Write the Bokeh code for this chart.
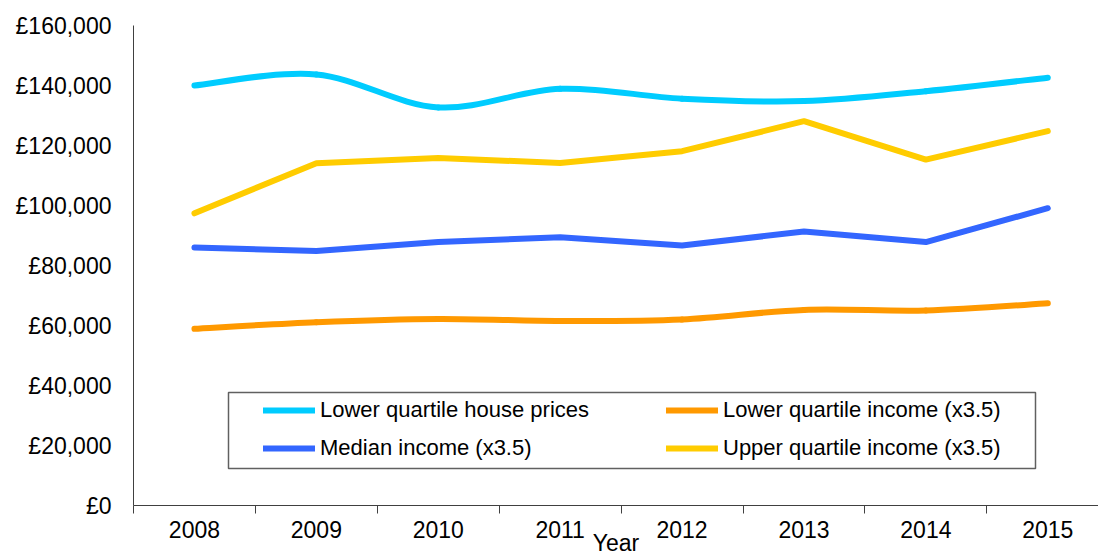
from bokeh.plotting import figure
from bokeh.models import Range1d, FixedTicker, Legend, LegendItem, BoxAnnotation, ColumnDataSource
from bokeh.embed import file_html
from bokeh.resources import INLINE

years = ["2008", "2009", "2010", "2011", "2012", "2013", "2014", "2015"]
house_lq = [140000, 143700, 132700, 138900, 135600, 134800, 138100, 142600]
income_lq = [58900, 61100, 62200, 61500, 62000, 65200, 65000, 67400]
income_med = [86000, 84800, 87800, 89400, 86700, 91300, 87800, 99100]
income_uq = [97400, 114100, 115800, 114200, 118100, 128100, 115300, 124800]
y_ticks = list(range(0, 160001, 20000))
y_tick_labels = ["£" + f"{t:,}" for t in y_ticks]
series_names = ["Lower quartile house prices", "Lower quartile income (x3.5)",
                "Median income (x3.5)", "Upper quartile income (x3.5)"]
x_title = "Year"

FONT = "Liberation Sans"
AXIS_COLOR = "#404040"
C_HOUSE = "#00CCFF"
C_LQ = "#FF9900"
C_MED = "#3366FF"
C_UQ = "#FFCC00"
LW = 6

xs = list(range(len(years)))


def bezier_source(ys):
    n = len(ys)
    d = dict(x0=[], y0=[], x1=[], y1=[], cx0=[], cy0=[], cx1=[], cy1=[])
    for i in range(n - 1):
        ip = max(i - 1, 0)
        inx = min(i + 2, n - 1)
        d["x0"].append(xs[i]); d["y0"].append(ys[i])
        d["x1"].append(xs[i + 1]); d["y1"].append(ys[i + 1])
        d["cx0"].append(xs[i] + (xs[i + 1] - xs[ip]) / 6.0)
        d["cy0"].append(ys[i] + (ys[i + 1] - ys[ip]) / 6.0)
        d["cx1"].append(xs[i + 1] - (xs[inx] - xs[i]) / 6.0)
        d["cy1"].append(ys[i + 1] - (ys[inx] - ys[i]) / 6.0)
    return ColumnDataSource(d)


p = figure(width=1098, height=558, output_backend="svg", toolbar_location=None,
           x_range=Range1d(-0.5, 7.416), y_range=Range1d(0, 160000),
           min_border_left=133, min_border_right=0, min_border_top=25, min_border_bottom=53)
p.outline_line_color = None
p.xgrid.visible = False
p.ygrid.visible = False
p.background_fill_color = "white"
p.border_fill_color = "white"

# smoothed series
r_lq = p.bezier(x0="x0", y0="y0", x1="x1", y1="y1", cx0="cx0", cy0="cy0", cx1="cx1", cy1="cy1",
                source=bezier_source(income_lq), line_color=C_LQ, line_width=LW, line_cap="round")
r_house = p.bezier(x0="x0", y0="y0", x1="x1", y1="y1", cx0="cx0", cy0="cy0", cx1="cx1", cy1="cy1",
                   source=bezier_source(house_lq), line_color=C_HOUSE, line_width=LW, line_cap="round")
# straight series
r_med = p.line(xs, income_med, line_color=C_MED, line_width=LW, line_cap="round", line_join="round")
r_uq = p.line(xs, income_uq, line_color=C_UQ, line_width=LW, line_cap="round", line_join="round")

# axes
p.xaxis.ticker = FixedTicker(ticks=xs, minor_ticks=[i - 0.5 for i in range(len(years) + 1)])
p.xaxis.major_label_overrides = {i: y for i, y in zip(xs, years)}
p.xaxis.major_tick_out = 0
p.xaxis.major_tick_in = 0
p.xaxis.minor_tick_in = 0
p.xaxis.minor_tick_out = 8
p.xaxis.minor_tick_line_color = AXIS_COLOR
p.xaxis.major_label_standoff = 7
p.xaxis.axis_label = x_title
p.xaxis.axis_label_text_font = FONT
p.xaxis.axis_label_text_font_size = "23px"
p.xaxis.axis_label_text_font_style = "normal"
p.xaxis.axis_label_text_color = "black"
p.xaxis.axis_label_standoff = -11

p.yaxis.ticker = FixedTicker(ticks=y_ticks)
p.yaxis.major_label_overrides = {t: l for t, l in zip(y_ticks, y_tick_labels)}
p.yaxis.major_tick_in = 0
p.yaxis.major_tick_out = 8
p.yaxis.minor_tick_line_color = None
p.yaxis.major_label_standoff = 14

for ax in (p.xaxis, p.yaxis):
    ax.axis_line_color = AXIS_COLOR
    ax.major_tick_line_color = AXIS_COLOR if ax is p.yaxis else None
    ax.major_label_text_font = FONT
    ax.major_label_text_font_size = "23px"
    ax.major_label_text_color = "black"

# legend box
p.add_layout(BoxAnnotation(left=95, right=902, bottom=37, top=113,
                           left_units="screen", right_units="screen",
                           bottom_units="screen", top_units="screen",
                           fill_alpha=0, line_color="#606060", line_width=1.5, line_alpha=1))

leg_common = dict(border_line_color=None, background_fill_alpha=0, padding=0, margin=0,
                  spacing=12, glyph_width=52, glyph_height=26, label_height=26,
                  label_standoff=5, label_text_font=FONT, label_text_font_size="22px",
                  label_text_color="black")
leg1 = Legend(items=[LegendItem(label=series_names[0], renderers=[r_house]),
                     LegendItem(label=series_names[2], renderers=[r_med])],
              location=(130, 44), **leg_common)
leg2 = Legend(items=[LegendItem(label=series_names[1], renderers=[r_lq]),
                     LegendItem(label=series_names[3], renderers=[r_uq])],
              location=(533, 44), **leg_common)
p.add_layout(leg1)
p.add_layout(leg2)

open("out.html", "w").write(file_html(p, INLINE))
